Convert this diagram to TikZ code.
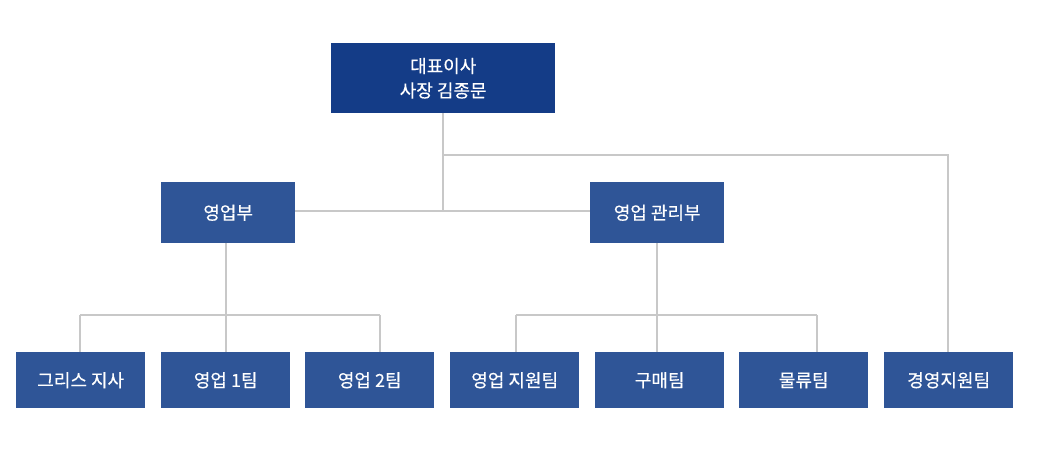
\documentclass[tikz,border=0pt]{standalone}
\usepackage{fontspec}
\newfontfamily\kr[FakeBold=0.4]{Noto Sans CJK KR}
\usetikzlibrary{backgrounds}
\definecolor{ceoblue}{RGB}{20,60,135}
\definecolor{boxblue}{RGB}{47,85,151}
\definecolor{linegray}{RGB}{200,200,200}
\begin{document}
\begin{tikzpicture}[x=1bp,y=-1bp,
  box/.style={fill=boxblue,text=white,inner sep=0pt,anchor=north west,font=\kr\fontsize{18bp}{24.5bp}\selectfont,align=center},
  link/.style={draw=linegray,line width=2bp}]
\useasboundingbox (0,0) rectangle (1039,472);
\node[box,fill=ceoblue,minimum width=224bp,minimum height=70bp] (ceo) at (331,43) {대표이사\\사장 김종문};
\node[box,minimum width=134bp,minimum height=61bp] (sales) at (161,182) {영업부};
\node[box,minimum width=134bp,minimum height=61bp] (mgmt) at (590,182) {영업 관리부};
\foreach \n/\x/\t in {g1/16/그리스 지사,g2/161/영업 1팀,g3/305/영업 2팀,g4/450/영업 지원팀,g5/595/구매팀,g6/739/물류팀,g7/884/경영지원팀}
  \node[box,minimum width=129bp,minimum height=56bp] (\n) at (\x,352) {\t};
\coordinate (j1) at (443,155);
\coordinate (j2) at (443,211);
\coordinate (a1) at (80,315);
\coordinate (a2) at (226,315);
\coordinate (a3) at (380,315);
\coordinate (c1) at (516,315);
\coordinate (c2) at (657,315);
\coordinate (c3) at (817,315);
\coordinate (h1) at (948,155);
\begin{scope}[on background layer]
\draw[link] (ceo.south -| j2) -- (j2);
\draw[link] (sales.east |- j2) -- (mgmt.west |- j2);
\draw[link] (j1) -- (h1) -- (h1 |- g7.north);
\draw[link] (sales.south -| a2) -- (a2);
\draw[link] (a1) -- (a3);
\draw[link] (a1) -- (a1 |- g1.north);
\draw[link] (a2) -- (a2 |- g2.north);
\draw[link] (a3) -- (a3 |- g3.north);
\draw[link] (mgmt.south -| c2) -- (c2);
\draw[link] (c1) -- (c3);
\draw[link] (c1) -- (c1 |- g4.north);
\draw[link] (c2) -- (c2 |- g5.north);
\draw[link] (c3) -- (c3 |- g6.north);
\end{scope}
\end{tikzpicture}
\end{document}
